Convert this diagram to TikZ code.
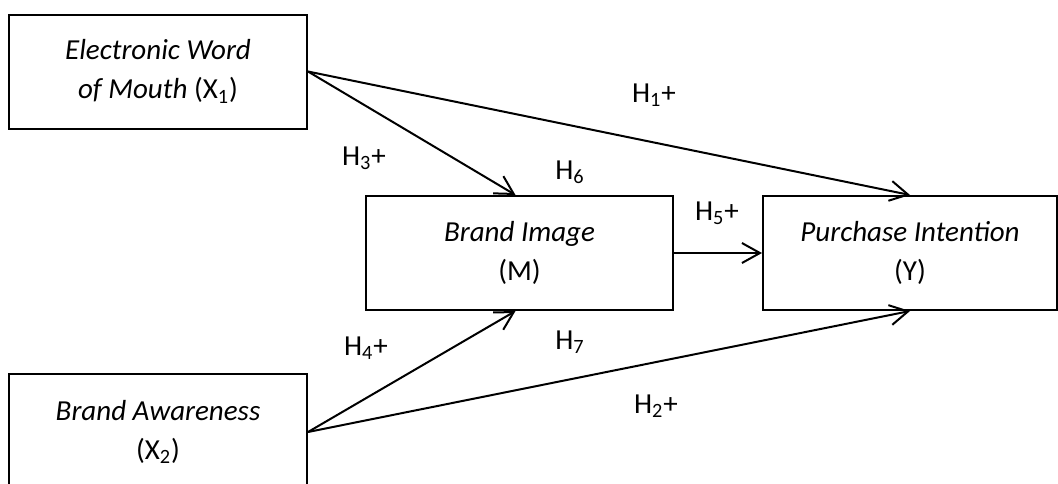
\documentclass[tikz,border=0pt]{standalone}
\usepackage{fontspec}
\setmainfont{Carlito}
\usetikzlibrary{arrows.meta}
\tikzset{
  >={Straight Barb[length=9pt,width=10pt]},
  box/.style={draw,line width=1pt,minimum height=57pt,inner sep=0pt,align=center,font=\fontsize{14.5}{19.5}\selectfont},
  lb/.style={inner sep=0pt,font=\fontsize{14.5}{16}\selectfont},
  every picture/.style={line width=1pt},
}
\begin{document}
\begin{tikzpicture}[x=0.5pt,y=-0.5pt]
\useasboundingbox (0,0) rectangle (1058,483);
\node[box,minimum width=149pt] (x1) at (158,71.5) {\textit{Electronic Word}\\\textit{of Mouth} (X\textsubscript{1})};
\node[box,minimum width=149pt,minimum height=58pt] (x2) at (158,432) {\textit{Brand Awareness}\\(X\textsubscript{2})};
\node[box,minimum width=153.5pt] (m) at (519.5,253) {\textit{Brand Image}\\(M)};
\node[box,minimum width=147pt] (y) at (910,253) {\textit{Purchase Intention}\\(Y)};
% paths
\draw[->] (x1.east) -- (y.north);
\draw[->] (x1.east) -- ([xshift=-2pt]m.north);
\draw[->] (x2.east) -- ([xshift=-2pt]m.south);
\draw[->] (x2.east) -- (y.south);
\draw[->] (m) -- (y);
% hypotheses
\node[lb] (h1) at (654,95) {H\textsubscript{1}+};
\node[lb] (h2) at (656,406) {H\textsubscript{2}+};
\node[lb] (h3) at (364,158) {H\textsubscript{3}+};
\node[lb] (h4) at (366,348) {H\textsubscript{4}+};
\node[lb] (h5) at (717,213) {H\textsubscript{5}+};
\node[lb] (h6) at (570,172) {H\textsubscript{6}};
\node[lb] (h7) at (570,342) {H\textsubscript{7}};
\end{tikzpicture}
\end{document}
